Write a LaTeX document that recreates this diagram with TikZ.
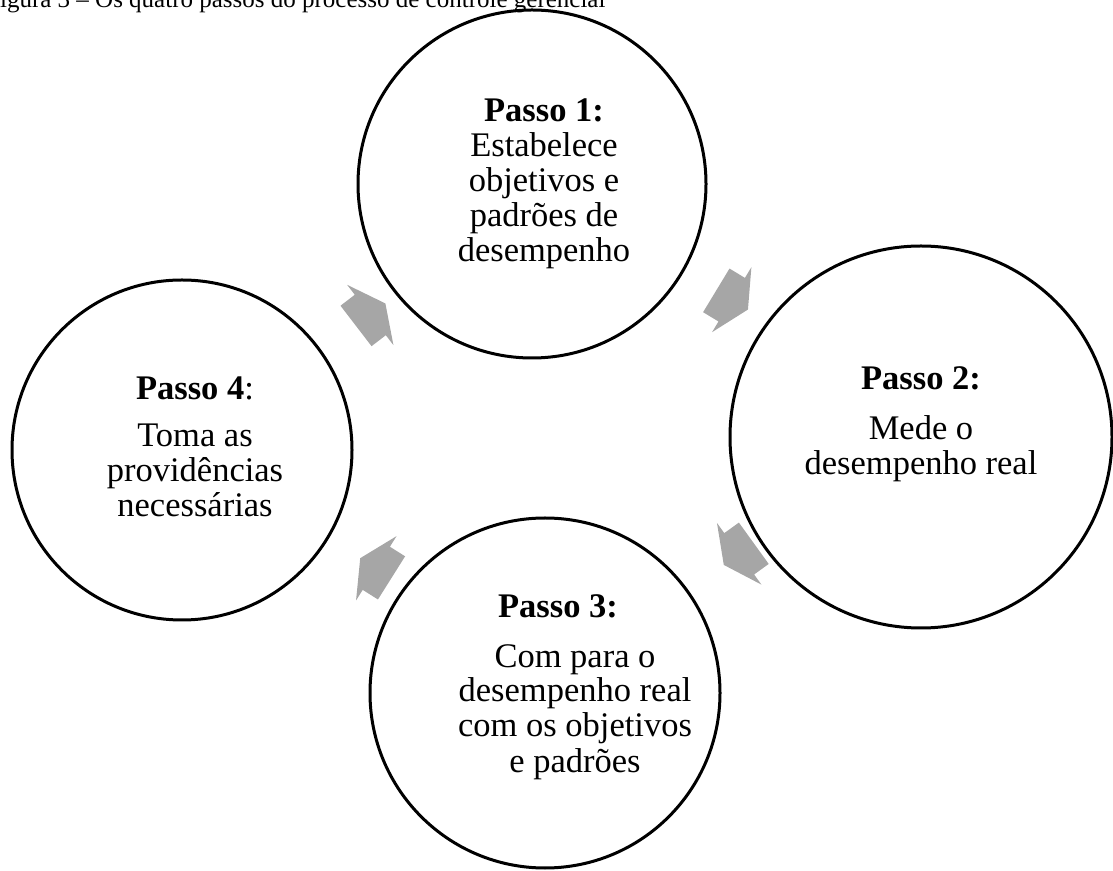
\documentclass[tikz,border=0pt]{standalone}
\usepackage{fontspec}
\setmainfont{Liberation Serif}
\definecolor{arrowgray}{RGB}{166,166,166}
\begin{document}
\begin{tikzpicture}[x=1pt,y=1pt,
  stepcircle/.style={draw=black, line width=3pt, circle, minimum size=#1, inner sep=0pt},
  steptext/.style={align=center, anchor=base, inner sep=0pt, font=\fontsize{34.5}{35}\selectfont},
  flowarrow/.style={fill=arrowgray},
  captiontext/.style={anchor=base west, inner sep=0pt, font=\fontsize{25}{25}\selectfont}]
\useasboundingbox (0,0) rectangle (1113,870);
% caption (cut by the top edge)
\node[captiontext] (cap) at (-14,862) {Figura 3 – Os quatro passos do processo de controle gerencial};
% circles
\node[stepcircle=348pt] (c1) at (532,686) {};
\node[stepcircle=382pt] (c2) at (921,433) {};
\node[stepcircle=350pt] (c3) at (545,177) {};
\node[stepcircle=340pt] (c4) at (182,420) {};
% texts (anchor = baseline of the last line)
\node[steptext] (t1) at (544,608.3) {\textbf{Passo 1:}\\Estabelece\\objetivos e\\padrões de\\desempenho};
\node[steptext] (t2) at (921,395) {\textbf{Passo 2:}\\[15pt]Mede o\\desempenho real};
\node[steptext] (t3) at (575,98) {\textbf{Passo 3:}\hspace*{34pt}\\[15pt]Com para o\\desempenho real\\com os objetivos\\e padrões};
\node[steptext] (t4) at (195,353) {\textbf{Passo 4}:\\[12pt]Toma as\\providências\\necessárias};
% block arrows
\fill[flowarrow, shift={(370.3,555)}, rotate=37.5] (-18,-25.5) -- (0,-25.5) -- (0,-38) -- (19,0) -- (0,38) -- (0,25.5) -- (-18,25.5) -- cycle;
\fill[flowarrow, shift={(731.7,570.3)}, rotate=-31.2] (-18,-25.5) -- (0,-25.5) -- (0,-38) -- (19,0) -- (0,38) -- (0,25.5) -- (-18,25.5) -- cycle;
\fill[flowarrow, shift={(739.2,316.2)}, rotate=-144.2] (-18,-25.5) -- (0,-25.5) -- (0,-38) -- (19,0) -- (0,38) -- (0,25.5) -- (-18,25.5) -- cycle;
\fill[flowarrow, shift={(376.3,301.7)}, rotate=147.8] (-18,-25.5) -- (0,-25.5) -- (0,-38) -- (19,0) -- (0,38) -- (0,25.5) -- (-18,25.5) -- cycle;
\end{tikzpicture}
\end{document}
